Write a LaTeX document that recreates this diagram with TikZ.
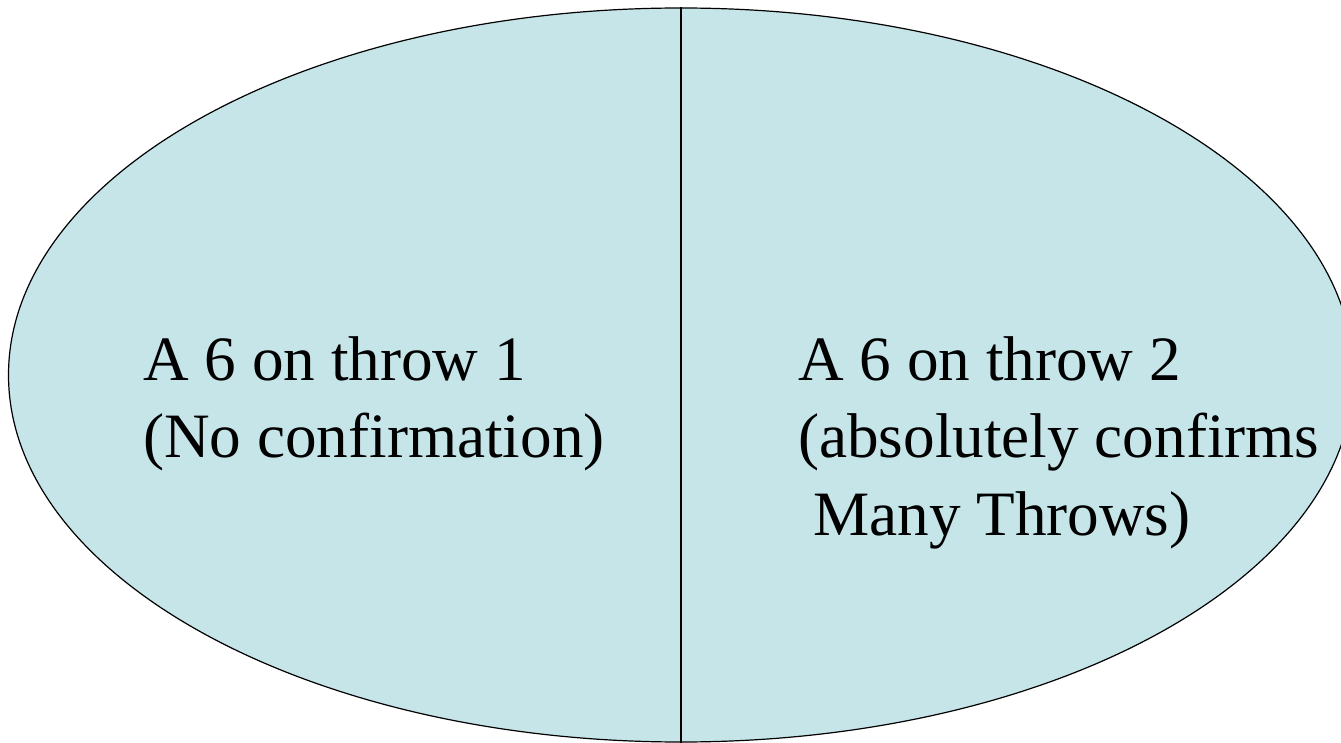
\documentclass[tikz,border=0pt]{standalone}
\usepackage{fontspec}
\setmainfont{Liberation Serif}
\usetikzlibrary{shapes.geometric}
\definecolor{paleblue}{RGB}{198,229,233}
\tikzset{
  region/.style={ellipse, draw=black, line width=1.2pt, fill=paleblue,
    minimum width=1345pt, minimum height=734pt, inner sep=0pt},
  caption/.style={anchor=base west, inner sep=0pt,
    font=\fontsize{63.2}{77}\selectfont, text=black}
}
\begin{document}
\begin{tikzpicture}[x=1pt,y=-1pt]
  \useasboundingbox (0,0) rectangle (1341,743);
  \node[region] (space) at (681,375) {};
  \draw[line width=1.3pt] (space.north) -- (space.south);
  % left half: first throw
  \node[caption] (l1) at (143,380) {A 6 on throw 1};
  \node[caption] (l2) at (143,457) {(No confirmation)};
  % right half: second throw
  \node[caption] (r1) at (798,380) {A 6 on throw 2};
  \node[caption] (r2) at (798,457) {(absolutely confirms};
  \node[caption] (r3) at (813,535) {Many Throws)};
\end{tikzpicture}
\end{document}
